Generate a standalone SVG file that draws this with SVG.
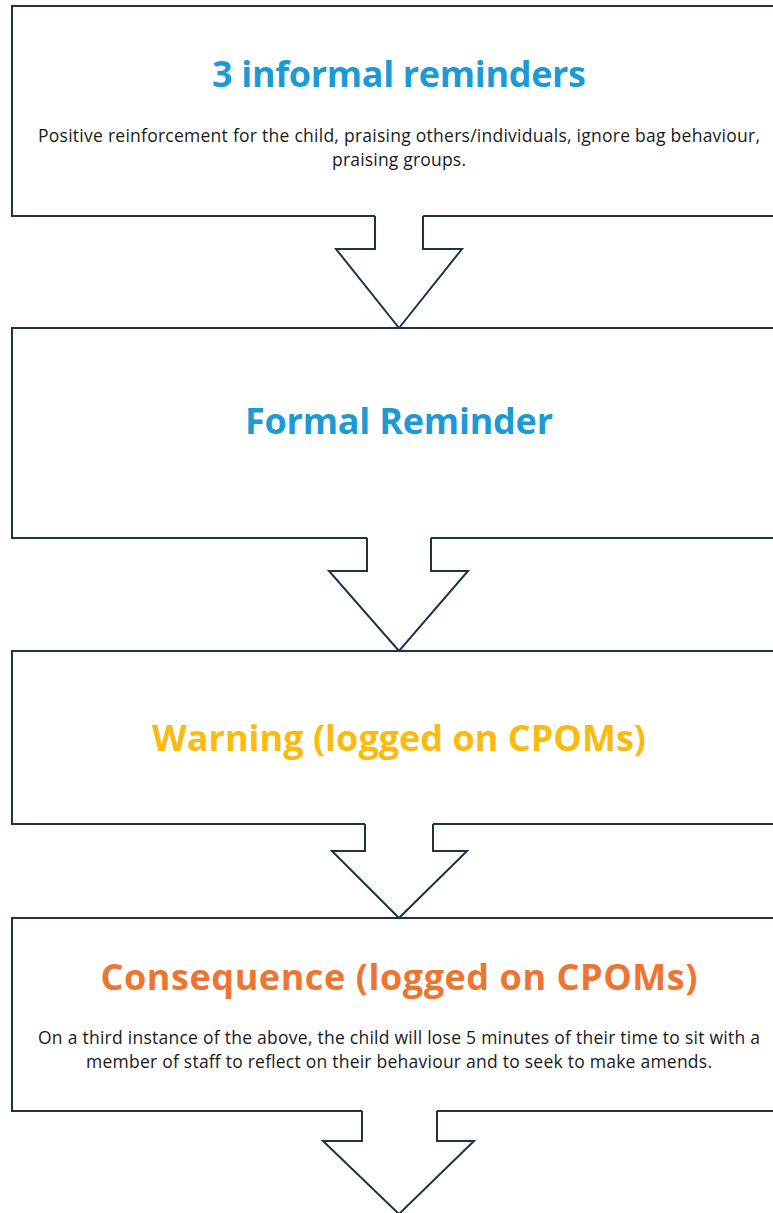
<svg xmlns="http://www.w3.org/2000/svg" width="773" height="1213" viewBox="0 0 773 1213">
<style>
.box{fill:#ffffff;stroke:#1b3544;stroke-width:2}
.afill{fill:#ffffff;stroke:none}
.aline{fill:none;stroke:#1b3544;stroke-width:2;stroke-linejoin:miter}
.title{font-family:"Open Sans","Liberation Sans",sans-serif;font-weight:bold;font-size:36px;text-anchor:middle}
.body{font-family:"Open Sans","Liberation Sans",sans-serif;font-size:17.5px;fill:#1a1a1a;text-anchor:middle}
.blue{fill:#1c9ad6}
.amber{fill:#fbbb0e}
.orange{fill:#ee7431}
</style>
<rect width="773" height="1213" fill="#ffffff"/>
<g id="node1">
<rect class="box" x="12" y="6" width="800" height="210"/>
<text class="title blue" x="399" y="87" textLength="374" lengthAdjust="spacing">3 informal reminders</text>
<text class="body" x="399" y="142" textLength="722" lengthAdjust="spacing">Positive reinforcement for the child, praising others/individuals, ignore bag behaviour,</text>
<text class="body" x="399" y="166" textLength="134" lengthAdjust="spacing">praising groups.</text>
</g>
<g id="node2">
<rect class="box" x="12" y="328" width="800" height="210"/>
<text class="title blue" x="399" y="434" textLength="308" lengthAdjust="spacing">Formal Reminder</text>
</g>
<g id="node3">
<rect class="box" x="12" y="651" width="800" height="173"/>
<text class="title amber" x="399" y="751" textLength="494" lengthAdjust="spacing">Warning (logged on CPOMs)</text>
</g>
<g id="node4">
<rect class="box" x="12" y="918" width="800" height="193"/>
<text class="title orange" x="399" y="990" textLength="597" lengthAdjust="spacing">Consequence (logged on CPOMs)</text>
<text class="body" x="399" y="1044" textLength="722" lengthAdjust="spacing">On a third instance of the above, the child will lose 5 minutes of their time to sit with a</text>
<text class="body" x="399" y="1068" textLength="626" lengthAdjust="spacing">member of staff to reflect on their behaviour and to seek to make amends.</text>
</g>
<g id="connectors">
<polygon class="afill" points="375,215 423,215 423,249 462,249 399,328 336,249 375,249"/>
<polyline class="aline" points="375,216 375,249 336,249 399,328 462,249 423,249 423,216"/>
<polygon class="afill" points="367,537 431,537 431,571 468,571 399,651 329,571 367,571"/>
<polyline class="aline" points="367,538 367,571 329,571 399,651 468,571 431,571 431,538"/>
<polygon class="afill" points="365,823 433,823 433,851 467,851 399,918 332,851 365,851"/>
<polyline class="aline" points="365,824 365,851 332,851 399,918 467,851 433,851 433,824"/>
<polygon class="afill" points="362,1110 437,1110 437,1141 474,1141 399,1214 323,1141 362,1141"/>
<polyline class="aline" points="362,1111 362,1141 323,1141 399,1214 474,1141 437,1141 437,1111"/>
</g>
</svg>
